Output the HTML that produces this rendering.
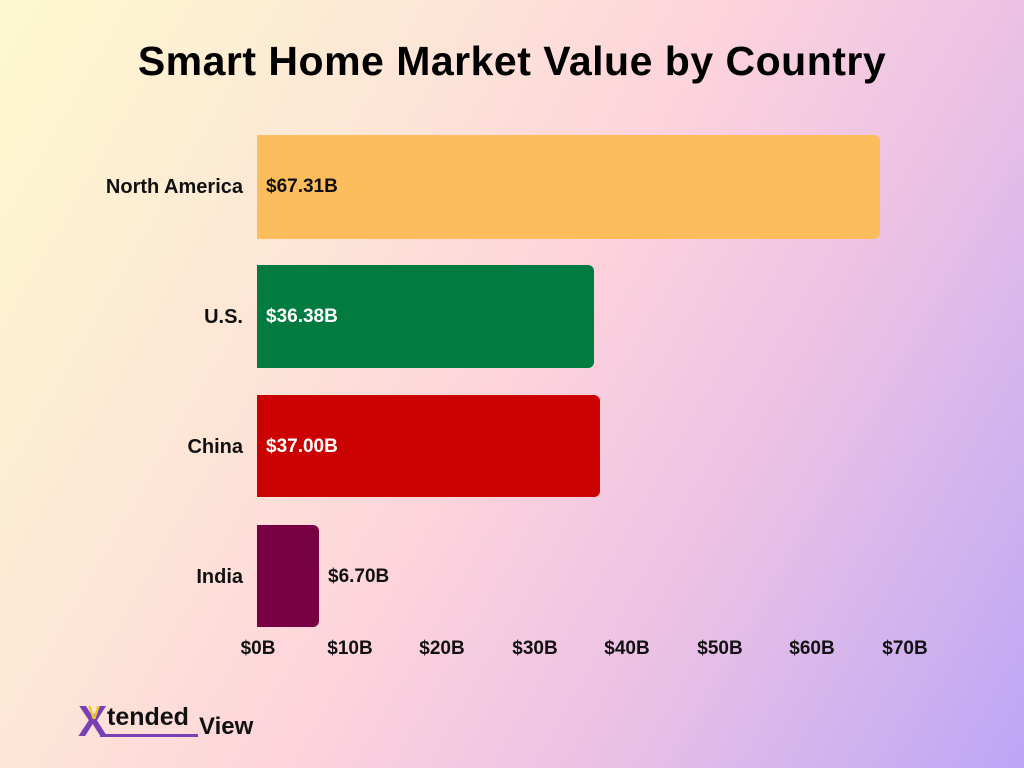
<!DOCTYPE html>
<html><head><style>
body{margin:0;width:1024px;height:768px;overflow:hidden;font-family:"Liberation Sans",sans-serif;}
.bg{position:absolute;inset:0;background:linear-gradient(120deg,#fdf9cf 0%,#fde6d6 30%,#fdd3dc 50%,#e9c0e6 72%,#bca6f6 100%);}
h1{position:absolute;top:38px;left:0;width:1024px;text-align:center;margin:0;font-size:41px;font-weight:bold;color:#000;letter-spacing:0.5px;}
.bar{position:absolute;left:257px;border-radius:0 6px 6px 0;}
.v{position:absolute;font-weight:bold;font-size:19px;}
.lab{position:absolute;right:781px;font-weight:bold;font-size:20px;color:#111;text-align:right;}
.t{position:absolute;top:638px;font-weight:bold;font-size:19px;color:#111;width:80px;text-align:center;}
</style></head><body>
<div class="bg"></div>
<h1>Smart Home Market Value by Country</h1>
<div class="bar" style="top:135px;height:104px;width:623px;background:#fdbd5c"></div>
<div class="bar" style="top:265px;height:103px;width:337px;background:#027b41"></div>
<div class="bar" style="top:395px;height:102px;width:343px;background:#cc0101"></div>
<div class="bar" style="top:525px;height:102px;width:62px;background:#7a0046"></div>
<div class="v" style="left:266px;top:176px;color:#111">$67.31B</div>
<div class="v" style="left:266px;top:306px;color:#fff">$36.38B</div>
<div class="v" style="left:266px;top:436px;color:#fff">$37.00B</div>
<div class="v" style="left:328px;top:566px;color:#111">$6.70B</div>
<div class="lab" style="top:176px">North America</div>
<div class="lab" style="top:306px">U.S.</div>
<div class="lab" style="top:436px">China</div>
<div class="lab" style="top:566px">India</div>
<div class="t" style="left:218px">$0B</div>
<div class="t" style="left:310px">$10B</div>
<div class="t" style="left:402px">$20B</div>
<div class="t" style="left:495px">$30B</div>
<div class="t" style="left:587px">$40B</div>
<div class="t" style="left:680px">$50B</div>
<div class="t" style="left:772px">$60B</div>
<div class="t" style="left:865px">$70B</div>
<div style="position:absolute;left:78px;top:700px;font-weight:bold;font-size:44px;color:#7b3fb5;line-height:44px">X</div>
<div style="position:absolute;left:88px;top:703px;font-weight:bold;font-size:18px;color:#e8d020">V</div>
<div style="position:absolute;left:107px;top:703px;font-weight:bold;font-size:25px;color:#111">tended</div>
<div style="position:absolute;left:100px;top:734px;width:98px;height:3px;background:#7b3fb5"></div>
<div style="position:absolute;left:199px;top:713px;font-weight:bold;font-size:24px;color:#111">View</div>
</body></html>
